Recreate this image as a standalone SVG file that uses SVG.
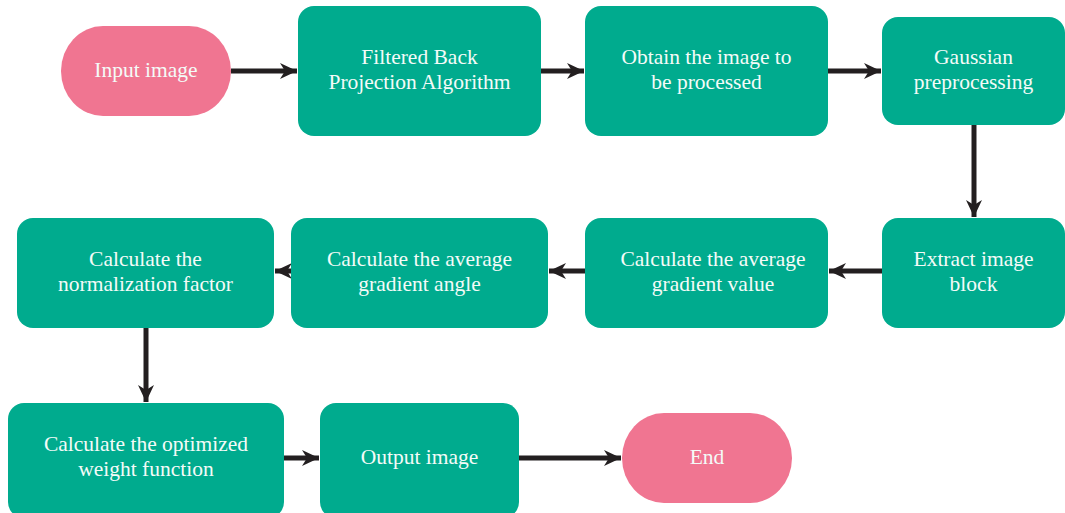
<svg xmlns="http://www.w3.org/2000/svg" width="1065" height="513" viewBox="0 0 1065 513">
<style>
.box{fill:#00ab8e}
.pill{fill:#f07591}
.t{font-family:"Liberation Serif",serif;font-size:21.5px;fill:#f4fbf8;text-anchor:middle}
.c{stroke:#231f20;stroke-width:5;fill:none}
</style>
<defs>
<marker id="ah" markerUnits="userSpaceOnUse" markerWidth="18" markerHeight="18" viewBox="0 0 18 18" refX="17" refY="9" orient="auto">
<path d="M0,1 L17,9 L0,17 L5,9 Z" fill="#231f20"/>
</marker>
</defs>
<rect width="1065" height="513" fill="#ffffff"/>
<g id="connectors">
<line class="c" x1="231" y1="71" x2="297" y2="71" marker-end="url(#ah)"/>
<line class="c" x1="541" y1="71" x2="584" y2="71" marker-end="url(#ah)"/>
<line class="c" x1="828" y1="71" x2="881" y2="71" marker-end="url(#ah)"/>
<line class="c" x1="974" y1="125" x2="974" y2="217" marker-end="url(#ah)"/>
<line class="c" x1="882" y1="271" x2="829" y2="271" marker-end="url(#ah)"/>
<line class="c" x1="585" y1="271" x2="549" y2="271" marker-end="url(#ah)"/>
<line class="c" x1="291" y1="271" x2="275" y2="271" marker-end="url(#ah)"/>
<line class="c" x1="146" y1="328" x2="146" y2="402" marker-end="url(#ah)"/>
<line class="c" x1="284" y1="458" x2="319" y2="458" marker-end="url(#ah)"/>
<line class="c" x1="519" y1="458" x2="621" y2="458" marker-end="url(#ah)"/>
</g>
<g id="n_input"><rect class="pill" x="61" y="26" width="170" height="90" rx="42" ry="45"/><text class="t" x="146" y="77">Input image</text></g>
<g id="n_fbp"><rect class="box" x="298" y="6" width="243" height="130" rx="16"/><text class="t" x="419.5" y="64">Filtered Back</text><text class="t" x="419.5" y="89">Projection Algorithm</text></g>
<g id="n_obtain"><rect class="box" x="585" y="6" width="243" height="130" rx="16"/><text class="t" x="706.5" y="64">Obtain the image to</text><text class="t" x="706.5" y="89">be processed</text></g>
<g id="n_gauss"><rect class="box" x="882" y="17" width="183" height="108" rx="16"/><text class="t" x="973.5" y="64">Gaussian</text><text class="t" x="973.5" y="89">preprocessing</text></g>
<g id="n_extract"><rect class="box" x="882" y="218" width="183" height="110" rx="16"/><text class="t" x="973.5" y="266">Extract image</text><text class="t" x="973.5" y="291">block</text></g>
<g id="n_value"><rect class="box" x="585" y="218" width="243" height="110" rx="16"/><text class="t" x="713" y="266">Calculate the average</text><text class="t" x="713" y="291">gradient value</text></g>
<g id="n_angle"><rect class="box" x="291" y="218" width="257" height="110" rx="16"/><text class="t" x="419.5" y="266">Calculate the average</text><text class="t" x="419.5" y="291">gradient angle</text></g>
<g id="n_norm"><rect class="box" x="17" y="218" width="257" height="110" rx="16"/><text class="t" x="145.5" y="266">Calculate the</text><text class="t" x="145.5" y="291">normalization factor</text></g>
<g id="n_weight"><rect class="box" x="8" y="403" width="276" height="115" rx="16"/><text class="t" x="146" y="451">Calculate the optimized</text><text class="t" x="146" y="476">weight function</text></g>
<g id="n_output"><rect class="box" x="320" y="403" width="199" height="115" rx="16"/><text class="t" x="419.5" y="464">Output image</text></g>
<g id="n_end"><rect class="pill" x="622" y="413" width="170" height="90" rx="42" ry="45"/><text class="t" x="707" y="464">End</text></g>
</svg>
